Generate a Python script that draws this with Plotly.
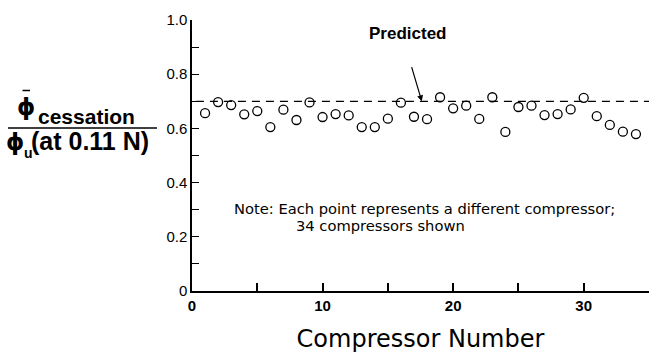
import plotly.graph_objects as go

compressor = list(range(1, 35))
ratio = [0.656, 0.697, 0.686, 0.652, 0.664, 0.605, 0.669, 0.631, 0.696, 0.642,
         0.653, 0.648, 0.605, 0.605, 0.636, 0.695, 0.643, 0.634, 0.715, 0.674,
         0.684, 0.635, 0.715, 0.587, 0.679, 0.684, 0.649, 0.653, 0.670, 0.713,
         0.645, 0.613, 0.588, 0.579]
predicted_x = [0.3, 35]
predicted_y = [0.70, 0.70]
x_tick_vals = [0, 10, 20, 30]
y_tick_vals = [0, 0.2, 0.4, 0.6, 0.8, 1.0]
y_tick_text = ["0", "0.2", "0.4", "0.6", "0.8", "1.0"]

L, R, T, B = 192, 8, 20, 62
PW, PH = 657 - L - R, 353 - T - B


def px(x):
    return (x - L) / PW


def py(y):
    return (353 - B - y) / PH


fig = go.Figure()
fig.add_trace(go.Scatter(x=predicted_x, y=predicted_y, mode="lines",
                         line=dict(color="black", width=1.3, dash="8px,6px"),
                         hoverinfo="skip", showlegend=False))
fig.add_trace(go.Scatter(x=compressor, y=ratio, mode="markers",
                         marker=dict(symbol="circle-open", size=9, color="black",
                                     line=dict(width=1.3, color="black")),
                         showlegend=False))

fig.update_layout(
    width=657, height=353,
    margin=dict(l=L, r=R, t=T, b=B, autoexpand=False),
    paper_bgcolor="white", plot_bgcolor="white",
    font=dict(family="Liberation Sans, Arial, sans-serif", color="black"),
    xaxis=dict(range=[0, 35], showgrid=False, zeroline=False, automargin=False,
               showline=True, linecolor="black", linewidth=1.5,
               tickvals=x_tick_vals, ticks="inside", ticklen=8, tickwidth=1.5,
               tickcolor="black",
               tickfont=dict(family="Liberation Sans Narrow, Liberation Sans, sans-serif",
                             size=15, color="black", weight="bold"),
               minor=dict(dtick=5, tick0=0, ticks="inside", ticklen=8, tickwidth=1.5,
                          tickcolor="black", showgrid=False),
               title=dict(text="Compressor Number",
                          font=dict(family="DejaVu Sans", size=24), standoff=17)),
    yaxis=dict(range=[0, 1.0], showgrid=False, zeroline=False, automargin=False,
               showline=True, linecolor="black", linewidth=1.5,
               tickvals=y_tick_vals, ticktext=y_tick_text, ticks="inside",
               ticklen=7, tickwidth=1.3, tickcolor="black",
               tickfont=dict(size=15, color="black"),
               minor=dict(dtick=0.1, tick0=0, ticks="inside", ticklen=7, tickwidth=1.3,
                          tickcolor="black", showgrid=False)),
)

# Predicted arrow and label
fig.add_annotation(x=17.6, y=0.70, ax=16.8, ay=0.83, xref="x", yref="y",
                   axref="x", ayref="y", text=" ", font=dict(size=1), borderpad=0,
                   showarrow=True, arrowhead=2, arrowsize=1, arrowwidth=1.2,
                   arrowcolor="black")
fig.add_annotation(x=16.48, y=0.952, xref="x", yref="y", text="<b>Predicted</b>",
                   showarrow=False, font=dict(size=17))

# Note
fig.add_annotation(xref="x", yref="y", x=3.06, y=0.306, xanchor="left", yanchor="middle",
                   text="Note: Each point represents a different compressor;",
                   showarrow=False, font=dict(family="DejaVu Sans", size=14.7))
fig.add_annotation(xref="x", yref="y", x=7.8, y=0.2435, xanchor="left", yanchor="middle",
                   text="34 compressors shown",
                   showarrow=False, font=dict(family="DejaVu Sans", size=14.7))

# y-axis fraction label
fig.add_annotation(xref="paper", yref="paper", x=px(15), y=py(107), xanchor="left",
                   yanchor="middle", showarrow=False, text="<b>ɸ</b>",
                   font=dict(family="DejaVu Sans", size=23))
fig.add_shape(type="line", xref="paper", yref="paper", x0=px(22.5), x1=px(30),
              y0=py(90.5), y1=py(90.5), line=dict(color="black", width=1.5))
fig.add_annotation(xref="paper", yref="paper", x=px(36), y=py(116), xanchor="left",
                   yanchor="middle", showarrow=False, text="<b>cessation</b>",
                   font=dict(size=21))
fig.add_annotation(xref="paper", yref="paper", x=px(4), y=py(142), xanchor="left",
                   yanchor="middle", showarrow=False, text="<b>ɸ</b>",
                   font=dict(family="DejaVu Sans", size=23))
fig.add_annotation(xref="paper", yref="paper", x=px(22), y=py(153), xanchor="left",
                   yanchor="middle", showarrow=False, text="<b>u</b>",
                   font=dict(size=14))
fig.add_annotation(xref="paper", yref="paper", x=px(29), y=py(141), xanchor="left",
                   yanchor="middle", showarrow=False, text="<b>(at 0.11 N)</b>",
                   font=dict(size=25))
fig.add_shape(type="line", xref="paper", yref="paper", x0=px(8), x1=px(157),
              y0=py(128), y1=py(128), line=dict(color="black", width=1.3))

fig.write_html("out.html")
